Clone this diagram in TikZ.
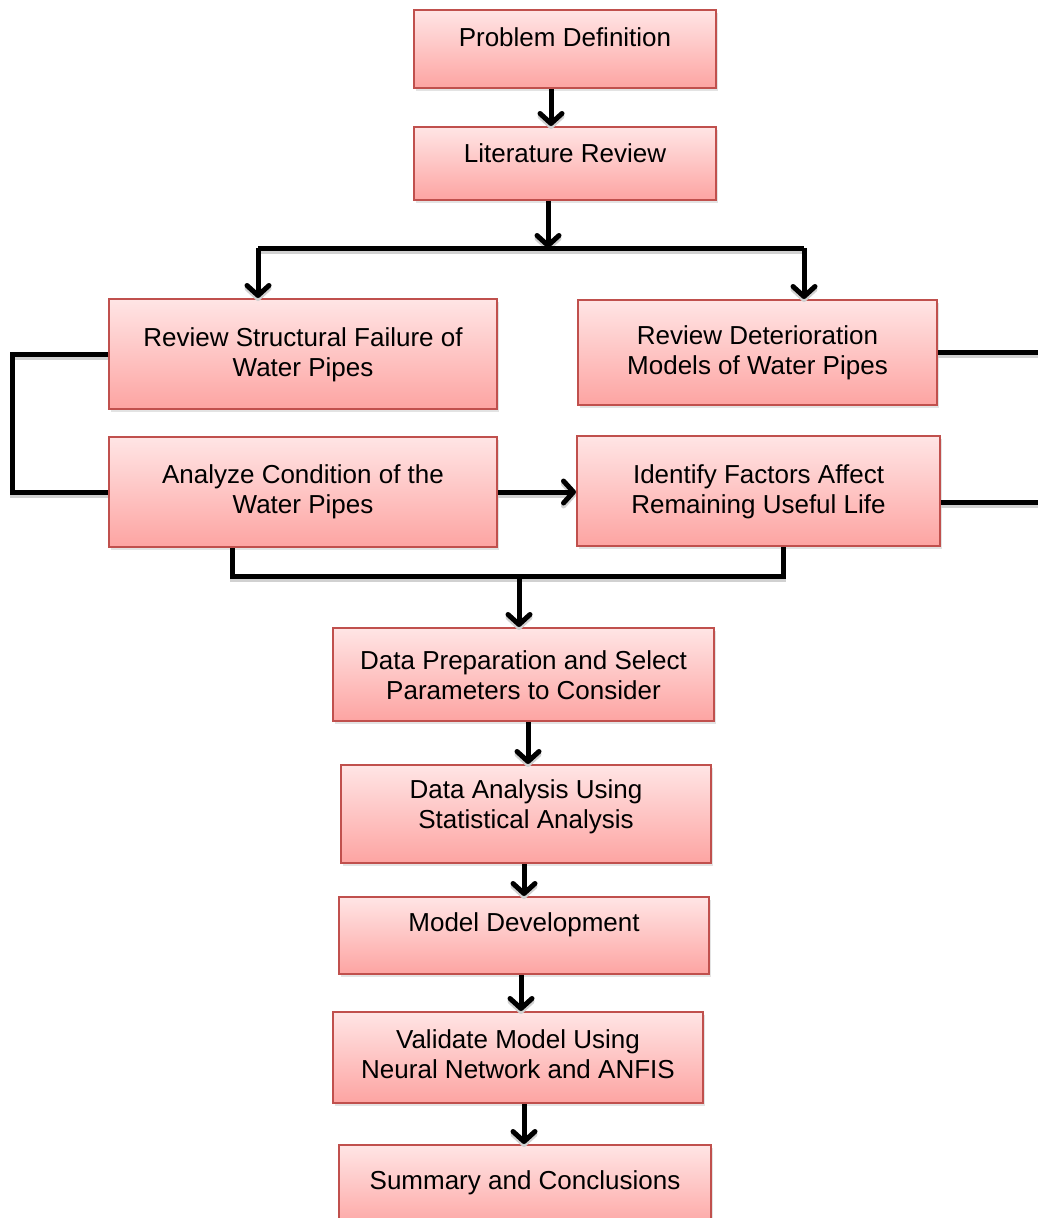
\documentclass[tikz,border=0pt]{standalone}
\usepackage{fontspec}
\setmainfont{Liberation Sans}
\usetikzlibrary{arrows.meta,shadows}
\definecolor{boxtop}{RGB}{255,229,229}
\definecolor{boxbot}{RGB}{253,164,162}
\definecolor{boxline}{RGB}{192,80,77}
\tikzset{
  stepbox/.style={draw=boxline, line width=2pt, top color=boxtop, bottom color=boxbot,
    rectangle, inner sep=0pt,
    drop shadow={opacity=0.22, shadow xshift=1.5pt, shadow yshift=-3pt}},
  steptext/.style={align=center, font=\fontsize{26}{30}\selectfont, inner sep=0pt},
  wire/.style={line width=5pt, black,
    preaction={draw=black!18, line width=5pt, transform canvas={yshift=-3pt}}},
  arr/.style={wire, -{Straight Barb[length=10pt,width=22pt,line width=5pt,round]}},
}
\newcommand{\stepnode}[7]{%
  % name, left, top, right, bottom, text y, text
  \node[stepbox, minimum width={#4-#2}, minimum height={#5-#3}] (#1) at ({(#2+#4)/2},{(#3+#5)/2}) {};
  \node[steptext] (#1-t) at ({(#2+#4)/2},#6) {#7};
}
\begin{document}
\begin{tikzpicture}[x=1pt,y=-1pt]
\useasboundingbox (0,0) rectangle (1037,1218);

\stepnode{pd}{414}{10}{716}{88}{37}{Problem Definition}
\stepnode{lr}{414}{127}{716}{200}{153}{Literature Review}
\stepnode{rs}{109}{299}{497}{409}{355}{Review Structural Failure of\\Water Pipes}
\stepnode{rd}{578}{300}{937}{405}{353}{Review Deterioration\\Models of Water Pipes}
\stepnode{ac}{109}{437}{497}{547}{492}{Analyze Condition of the\\Water Pipes}
\stepnode{if}{577}{436}{940}{546}{492}{Identify Factors Affect\\Remaining Useful Life}
\stepnode{dp}{333}{628}{714}{721}{675}{Data Preparation and Select\\Parameters to Consider}
\stepnode{da}{341}{765}{711}{863}{807}{Data Analysis Using\\Statistical Analysis}
\stepnode{md}{339}{897}{709}{974}{925}{Model Development}
\stepnode{vm}{333}{1012}{703}{1103}{1054}{Validate Model Using\\Neural Network and ANFIS}
\stepnode{sc}{339}{1145}{711}{1230}{1183}{Summary and Conclusions}

% junction points of the branching lines
\coordinate (bus) at (548,248);
\coordinate (busL) at (258,248);
\coordinate (busR) at (804,248);
\coordinate (lx) at (12,0);
\coordinate (rx) at (1048,0);
\coordinate (bl) at (232,576);
\coordinate (br) at (783,576);
\coordinate (bb) at (519,576);

% main chain
\draw[arr] ([xshift=-14pt]pd.south) -- ([xshift=-14pt]lr.north);
\draw[arr] (lr.south -| bus) -- (bus);
\draw[wire] (busL) -- (busR);
\draw[arr] (busL) -- (busL |- rs.north);
\draw[arr] (busR) -- (busR |- rd.north);

% side loops
\draw[wire] (rs.west) -- (rs.west -| lx) |- (ac.west);
\draw[wire] (rd.east) -- (rd.east -| rx) |- ([yshift=-11pt]if.east);
\draw[arr] (ac.east) -- (ac.east -| if.west);

% merge into data preparation
\draw[wire] (bl |- ac.south) -- (bl) -- (br) -- (br |- if.south);
\draw[arr] (bb) -- (bb |- dp.north);

\draw[arr] ([xshift=4.5pt]dp.south) -- ([xshift=4.5pt]dp.south |- da.north);
\draw[arr] ([xshift=-2pt]da.south) -- ([xshift=-2pt]da.south |- md.north);
\draw[arr] ([xshift=-3pt]md.south) -- ([xshift=-3pt]md.south |- vm.north);
\draw[arr] ([xshift=6pt]vm.south) -- ([xshift=6pt]vm.south |- sc.north);
\end{tikzpicture}
\end{document}
